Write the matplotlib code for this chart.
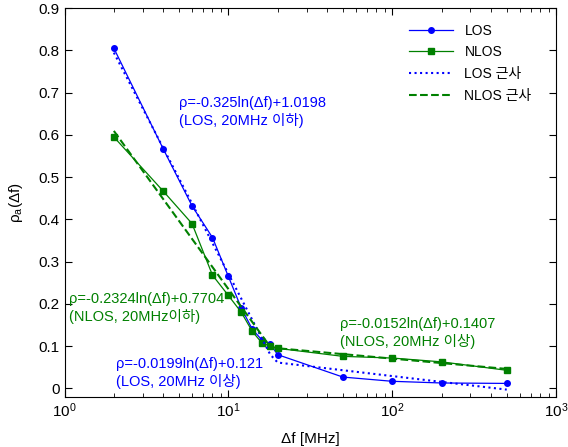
import numpy as np
import matplotlib
matplotlib.use('Agg')
import matplotlib.pyplot as plt

plt.rcParams['font.family'] = ['Liberation Sans', 'Noto Sans CJK KR', 'DejaVu Sans']
plt.rcParams['mathtext.fontset'] = 'custom'
plt.rcParams['mathtext.rm'] = 'Liberation Sans'
plt.rcParams['mathtext.it'] = 'Liberation Sans:italic'
plt.rcParams['font.size'] = 11

# measured data
df = [2, 4, 6, 8, 10, 12, 14, 16, 18, 20, 50, 100, 200, 500]
los = [0.805, 0.567, 0.432, 0.357, 0.265, 0.19, 0.14, 0.115, 0.105, 0.08,
       0.027, 0.017, 0.013, 0.012]
nlos = [0.595, 0.467, 0.39, 0.268, 0.22, 0.18, 0.135, 0.108, 0.1, 0.095,
        0.076, 0.072, 0.063, 0.043]

# fit coefficients (a*ln(df)+b), below / above 20 MHz
los_lo = (-0.325, 1.0198)
los_hi = (-0.0199, 0.121)
nlos_lo = (-0.2324, 0.7704)
nlos_hi = (-0.0152, 0.1407)
f_lo = np.array([2, 4, 6, 8, 10, 12, 14, 16, 18])
f_hi = np.array([20, 50, 100, 200, 500])


def piecewise(lo, hi):
    y1 = lo[0] * np.log(f_lo) + lo[1]
    y2 = hi[0] * np.log(f_hi) + hi[1]
    return np.concatenate([f_lo, f_hi]), np.concatenate([y1, y2])


blue = '#0000ff'
green = '#008000'

fig = plt.figure(figsize=(5.68, 4.47), dpi=100)
ax = fig.add_axes([0.1136, 0.112, 0.8654, 0.870])

ax.plot(df, los, '-o', color=blue, lw=0.9, ms=4, label='LOS')
ax.plot(df, nlos, '-s', color=green, lw=0.9, ms=4, label='NLOS')
fx, fy = piecewise(los_lo, los_hi)
ax.plot(fx, fy, ':', color=blue, lw=1.5, label='LOS 근사')
fx, fy = piecewise(nlos_lo, nlos_hi)
ax.plot(fx, fy, '--', color=green, lw=1.5, label='NLOS 근사')

ax.set_xscale('log')
ax.set_xlim(1, 1000)
ax.set_ylim(-0.02, 0.9)
ax.set_yticks(np.arange(0, 0.91, 0.1))
ax.set_yticklabels(['0', '0.1', '0.2', '0.3', '0.4', '0.5', '0.6', '0.7', '0.8', '0.9'])
ax.tick_params(which='both', direction='in', top=True, right=True)
ax.tick_params(which='major', length=5)
ax.tick_params(which='minor', length=3)

ax.set_xlabel('Δf [MHz]', labelpad=8)
ax.set_ylabel('ρ$_\\mathregular{a}$(Δf)', labelpad=10)

fs = 10.5
ax.text(5.0, 0.692, 'ρ=-0.325ln(Δf)+1.0198\n(LOS, 20MHz 이하)', color=blue,
        va='top', ha='left', linespacing=1.25, fontsize=fs)
ax.text(1.06, 0.228, 'ρ=-0.2324ln(Δf)+0.7704\n(NLOS, 20MHz이하)', color=green,
        va='top', ha='left', linespacing=1.25, fontsize=fs)
ax.text(2.05, 0.074, 'ρ=-0.0199ln(Δf)+0.121\n(LOS, 20MHz 이상)', color=blue,
        va='top', ha='left', linespacing=1.25, fontsize=fs)
ax.text(48, 0.17, 'ρ=-0.0152ln(Δf)+0.1407\n(NLOS, 20MHz 이상)', color=green,
        va='top', ha='left', linespacing=1.25, fontsize=fs)

ax.legend(loc='upper right', frameon=False, handlelength=3.2, fontsize=10,
          labelspacing=0.55, borderaxespad=0.3, bbox_to_anchor=(0.97, 0.985))

fig.savefig('out.png', dpi=100)
